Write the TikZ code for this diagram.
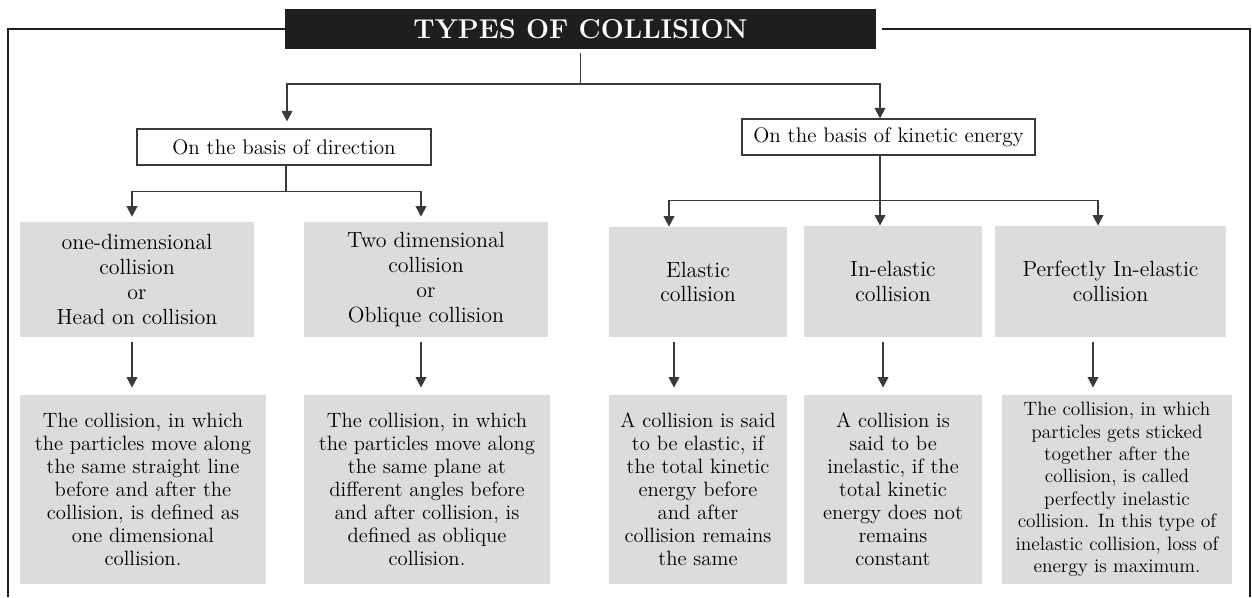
\documentclass[tikz,border=0pt]{standalone}
\usepackage{fontspec}
\usepackage{tikz}
\usetikzlibrary{positioning}
\usetikzlibrary{arrows.meta}

\definecolor{boxgray}{RGB}{220,220,220}
\definecolor{linegray}{RGB}{58,58,58}
\definecolor{titleblack}{RGB}{30,30,30}

\tikzset{
  basisbox/.style={draw=linegray, line width=0.6pt, minimum height=0.72cm, inner sep=0pt, font=\fontsize{12}{14}\selectfont},
  typebox/.style={fill=boxgray, inner sep=0pt, align=center, font=\fontsize{12.5}{14.2}\selectfont},
  textbox/.style={fill=boxgray, minimum height=3.78cm, inner sep=0pt, align=center, font=\fontsize{11.8}{13.1}\selectfont},
  frame/.style={draw=titleblack, line width=1.1pt},
  conn/.style={draw=linegray, line width=1.1pt},
  arr/.style={conn, -{Triangle[width=6pt,length=6pt]}},
}

\begin{document}
\begin{tikzpicture}
\useasboundingbox (0,0) rectangle (25.04,11.94);

% title and frame
\node[fill=titleblack, minimum width=11.82cm, minimum height=0.8cm, inner sep=0pt, text=white,
      font=\fontsize{15.5}{17}\selectfont\bfseries\addfontfeature{LetterSpace=8}](title) at (11.61, 11.36) {TYPES OF COLLISION};
\draw[frame] (title.west) -| (0.16, 0);
\draw[frame] ([xshift=3pt]title.east) -| (25.0, 0);

% basis
\node[basisbox, minimum width=5.88cm](dir) at (5.68, 9.0) {On the basis of direction};
\node[basisbox, minimum width=5.86cm](ke) at (17.77, 9.2) {On the basis of kinetic energy};

% types
\node[typebox, minimum width=4.68cm, minimum height=2.3cm](od) at (2.74, 6.35) {one-dimensional\\collision\\or\\Head on collision};
\node[typebox, minimum width=4.88cm, minimum height=2.3cm](td) at (8.52, 6.35) {Two dimensional\\collision\\or\\Oblique collision};
\node[typebox, minimum width=3.56cm, minimum height=2.2cm](el) at (13.96, 6.3) {Elastic\\collision};
\node[typebox, minimum width=3.56cm, minimum height=2.22cm](inel) at (17.86, 6.31) {In-elastic\\collision};
\node[typebox, minimum width=4.62cm, minimum height=2.22cm](pin) at (22.21, 6.31) {Perfectly In-elastic\\collision};

% definitions
\node[textbox, minimum width=4.92cm](odt) at (2.86, 2.15) {The collision, in which\\the particles move along\\the same straight line\\before and after the\\collision, is defined as\\one dimensional\\collision.};
\node[textbox, minimum width=4.92cm](tdt) at (8.54, 2.15) {The collision, in which\\the particles move along\\the same plane at\\different angles before\\and after collision, is\\defined as oblique\\collision.};
\node[textbox, minimum width=3.56cm](elt) at (13.96, 2.15) {A collision is said\\to be elastic, if\\the total kinetic\\energy before\\and after\\collision remains\\the same};
\node[textbox, minimum width=3.56cm](inelt) at (17.86, 2.15) {A collision is\\said to be\\inelastic, if the\\total kinetic\\energy does not\\remains\\constant};
\node[textbox, minimum width=4.6cm, font=\fontsize{11}{12.8}\selectfont](pint) at (22.34, 2.15) {The collision, in which\\particles gets sticked\\together after the\\collision, is called\\perfectly inelastic\\collision. In this type of\\inelastic collision, loss of\\energy is maximum.};

% title to basis
\coordinate (top) at (11.61, 10.26);
\draw[conn] ([yshift=-2.3pt]title.south) -- (top);
\draw[arr, shorten >=4pt] (top) -| ([xshift=0.06cm]dir.north);
\draw[arr] (top) -| ([xshift=-0.17cm]ke.north);

% direction branches
\draw[conn] ([xshift=0.04cm]dir.south) -- ++(0,-0.52) coordinate (dirb);
\draw[arr, shorten >=2.8pt] (dirb) -| ([xshift=-0.1cm]od.north);
\draw[arr, shorten >=2.8pt] (dirb) -| ([xshift=-0.1cm]td.north);

% kinetic energy branches
\draw[conn] ([xshift=-0.17cm]ke.south) -- ++(0,-0.9) coordinate (keb);
\draw[arr] (keb) -| ([xshift=-0.58cm]el.north);
\draw[arr] (keb) -- (keb |- inel.north);
\draw[arr] (keb) -| ([xshift=-0.25cm]pin.north);

% types to definitions
\draw[arr, shorten <=2.8pt, shorten >=4pt] ([xshift=-0.1cm]od.south) -- ([xshift=-0.1cm]od.south |- odt.north);
\draw[arr, shorten <=2.8pt, shorten >=4pt] ([xshift=-0.1cm]td.south) -- ([xshift=-0.1cm]td.south |- tdt.north);
\draw[arr, shorten <=2.8pt, shorten >=4pt] ([xshift=-0.48cm]el.south) -- ([xshift=-0.48cm]el.south |- elt.north);
\draw[arr, shorten <=2.8pt, shorten >=4pt] ([xshift=-0.2cm]inel.south) -- ([xshift=-0.2cm]inel.south |- inelt.north);
\draw[arr, shorten <=2.8pt, shorten >=4pt] ([xshift=-0.35cm]pin.south) -- ([xshift=-0.35cm]pin.south |- pint.north);

\end{tikzpicture}
\end{document}
